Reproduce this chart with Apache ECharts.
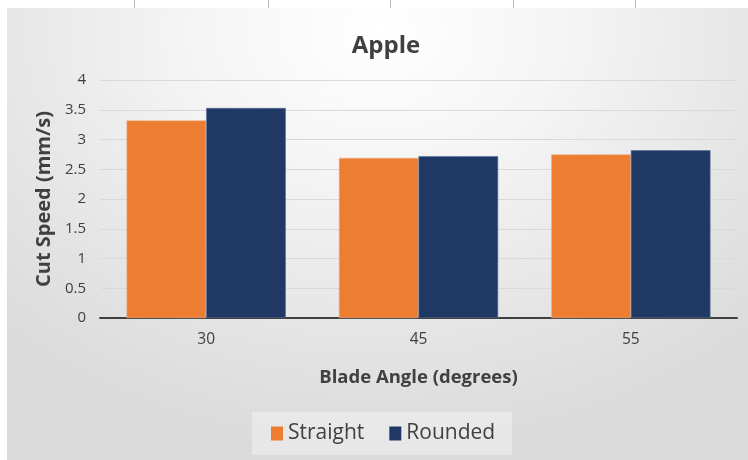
<!DOCTYPE html>
<html>
<head>
<meta charset="utf-8">
<script src="https://cdn.jsdelivr.net/npm/echarts@6/dist/echarts.min.js"></script>
<style>
html,body{margin:0;padding:0;background:#fff;}
#wrap{position:relative;width:748px;height:460px;overflow:hidden;background:#fff;}
#box{position:absolute;left:7px;top:8px;width:741px;height:452px;
 background:radial-gradient(ellipse 75% 95% at 50% 5%, #ffffff 0%, #f4f4f4 35%, #e3e3e3 75%, #dadada 100%);}
#main{position:absolute;left:0;top:0;width:748px;height:460px;}
.vl{position:absolute;top:0;width:1px;height:8px;background:#b8b8b8;}
</style>
</head>
<body>
<div id="wrap">
<div class="vl" style="left:134px"></div>
<div class="vl" style="left:268px"></div>
<div class="vl" style="left:390px"></div>
<div class="vl" style="left:513px"></div>
<div class="vl" style="left:635px"></div>
<div id="box"></div>
<div id="main"></div>
</div>
<script>
var categories = ['30', '45', '55'];
var straight = [3.32, 2.69, 2.75];
var rounded = [3.53, 2.72, 2.82];
var seriesNames = ['Straight', 'Rounded'];

var FONT = '"Open Sans", "Liberation Sans", sans-serif';
var chart = echarts.init(document.getElementById('main'), null, {renderer: 'canvas'});
chart.setOption({
  backgroundColor: 'transparent',
  animation: false,
  title: {
    text: 'Apple',
    left: 381,
    top: 29,
    textAlign: 'center',
    textStyle: {fontFamily: FONT, fontSize: 24, fontWeight: 'bold', color: '#404040'}
  },
  legend: {
    data: seriesNames,
    left: 252,
    top: 412,
    padding: [11, 17, 11, 19],
    backgroundColor: 'rgba(255,255,255,0.35)',
    itemWidth: 12,
    itemHeight: 14,
    itemGap: 25,
    icon: 'rect',
    itemStyle: {borderWidth: 0},
    textStyle: {fontFamily: FONT, fontSize: 21, color: '#404040'}
  },
  grid: {left: 100, right: 11, top: 80, bottom: 142, containLabel: false},
  xAxis: {
    type: 'category',
    data: categories,
    name: 'Blade Angle (degrees)',
    nameLocation: 'middle',
    nameGap: 50,
    nameTextStyle: {fontFamily: FONT, fontSize: 18.5, fontWeight: 'bold', color: '#404040'},
    axisLine: {lineStyle: {color: '#404040', width: 2}},
    axisTick: {show: false},
    axisLabel: {fontFamily: FONT, fontSize: 15.5, color: '#404040', margin: 14}
  },
  yAxis: {
    type: 'value',
    min: 0,
    max: 4,
    interval: 0.5,
    name: 'Cut Speed (mm/s)',
    nameLocation: 'middle',
    nameGap: 44,
    nameTextStyle: {fontFamily: FONT, fontSize: 20, fontWeight: 'bold', color: '#404040'},
    axisLine: {show: false},
    axisTick: {show: false},
    axisLabel: {fontFamily: FONT, fontSize: 15, color: '#404040', margin: 14},
    splitLine: {lineStyle: {color: '#d9d9d9', width: 1}}
  },
  series: [
    {
      name: seriesNames[0], type: 'bar', data: straight,
      barGap: '0%', barCategoryGap: '25%',
      itemStyle: {color: '#ED7D31', borderColor: '#f3b08a', borderWidth: 0.6}
    },
    {
      name: seriesNames[1], type: 'bar', data: rounded,
      itemStyle: {color: '#203864', borderColor: '#5a6f96', borderWidth: 0.6}
    }
  ]
});
</script>
</body>
</html>
